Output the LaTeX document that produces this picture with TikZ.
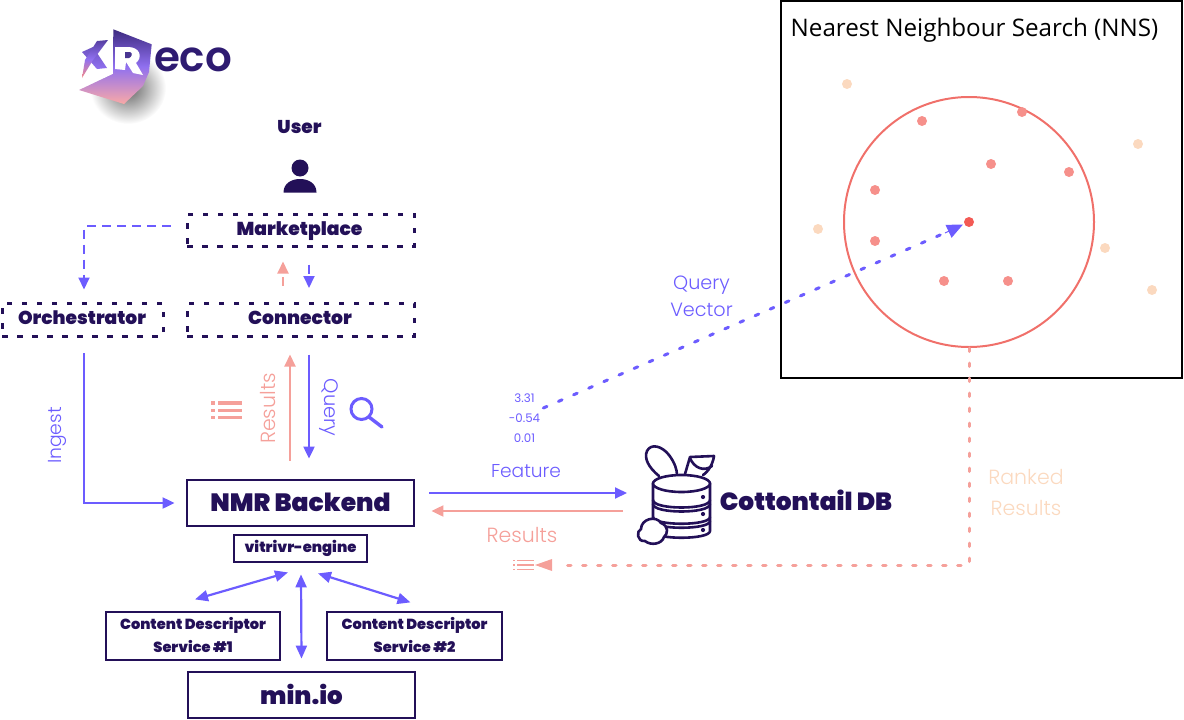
\documentclass[tikz,border=0pt]{standalone}
\usepackage{fontspec}
\setmainfont{Poppins}
\newfontfamily\popb{Poppins Black}
\newfontfamily\popl{Poppins Light}
\newfontfamily\titlef{Open Sans}
\usetikzlibrary{arrows.meta,calc,shapes.geometric}
\definecolor{navy}{HTML}{231058}
\definecolor{vio}{HTML}{6C5CFF}
\definecolor{sal}{HTML}{F5A09A}
\definecolor{pch}{HTML}{FBD9BF}
\definecolor{redc}{HTML}{F0706A}
\definecolor{logod}{HTML}{3D2A80}
\definecolor{logom}{HTML}{9070F0}
\definecolor{logop}{HTML}{F88C88}
\tikzset{
 x=1pt,y=-1pt,
 solidbox/.style={draw=navy,line width=2.8pt,minimum height=#1,inner sep=0pt,anchor=center},
 dashbox/.style={draw=navy,line width=3pt,dash pattern=on 5.5pt off 9.5pt,inner sep=0pt,anchor=center},
 lbl/.style={font=\popb\color{navy},inner sep=0pt},
 thin lbl/.style={font=\popl\fontsize{17}{20}\selectfont,inner sep=0pt},
 va/.style={draw=vio,line width=2pt,-{Triangle[length=12pt,width=11pt,fill=vio]}},
 vb/.style={draw=vio,line width=2.2pt,{Triangle[length=13pt,width=11pt,fill=vio]}-{Triangle[length=13pt,width=11pt,fill=vio]}},
 sa/.style={draw=sal,line width=2pt,-{Triangle[length=12pt,width=11pt,fill=sal]}},
 dotp/.style={circle,fill=pch,minimum size=10pt,inner sep=0pt},
 dotm/.style={circle,fill=#1,minimum size=10pt,inner sep=0pt},
 icon/.style={draw=navy,line width=2.6pt,line join=round,line cap=round,fill=white},
 iconl/.style={draw=navy,line width=2.6pt,line cap=round},
}
\begin{document}
\begin{tikzpicture}
\useasboundingbox (0,0) rectangle (1184,720);
% logo shadow
\shade[inner color=black!62,outer color=white] (128,88) ellipse (38 and 36);
% logo
\fill[white] (113,29) -- (113,74) -- (78,90) -- (78,43) -- cycle;
\shade[top color=logod,bottom color=logop!75!white,middle color=logom] (113.3,29.3) -- (151.7,44.3) -- (149,72) -- (143,86) -- (124,104) -- (79,90) -- (113,74) -- cycle;
\shade[top color=logom!60!logod,bottom color=logom] (82,52) -- (93,47) -- (107,68) -- (97,69) -- cycle;
\shade[top color=logod!70!logom,bottom color=logop,middle color=logom] (97,41) -- (108,40) -- (93,60) -- (82,78) -- (85,60) -- cycle;
\fill[white] (115,47) -- (128,47) .. controls (140,47) and (143,57) .. (136,63) -- (143,75) -- (133,73) -- (126,62) -- (125,70) -- (115,69) -- cycle;
\fill[logod!85!logom] (125,52) -- (130,52) .. controls (133,53) and (132,57) .. (129,58) -- (125,58) -- cycle;
\node[font=\fontspec{Poppins SemiBold}\fontsize{42}{44}\selectfont\color{navy!85!vio},inner sep=0pt] (logo) at (193,60) {eco};
% user
\node[lbl,font=\popb\fontsize{18.5}{20}\selectfont\color{navy}] (user) at (299.5,127) {User};
\fill[navy] (300,168) circle (8.5);
\fill[navy] (283.5,192.5) .. controls (283.5,183) and (292,179) .. (300,179) .. controls (308,179) and (316.5,183) .. (316.5,192.5) -- cycle;
% boxes
\node[dashbox,minimum width=227pt,minimum height=32pt] (market) at (300.5,230) {};
\node[lbl,font=\popb\fontsize{18.7}{20}\selectfont\color{navy}] at (299.5,231) {Marketplace};
\node[dashbox,minimum width=161pt,minimum height=33pt] (orch) at (82.5,319.5) {};
\node[lbl,font=\popb\fontsize{18.6}{20}\selectfont\color{navy}] at (82,317.5) {Orchestrator};
\node[dashbox,minimum width=227pt,minimum height=33pt] (conn) at (300.5,319.5) {};
\node[lbl,font=\popb\fontsize{18.7}{20}\selectfont\color{navy}] at (300,317.5) {Connector};
\node[solidbox=46pt,minimum width=227pt,font=\popb\fontsize{25}{28}\selectfont\color{navy}] (nmr) at (300.5,503) {\raisebox{2.5pt}{NMR Backend}};
\node[solidbox=27pt,minimum width=133pt,font=\popb\fontsize{14.8}{16}\selectfont\color{navy}] (vit) at (300.5,548.5) {vitrivr-engine};
\node[solidbox=48pt,minimum width=174pt,align=center,font=\popb\fontsize{14.6}{23}\selectfont\color{navy}] (cd1) at (193,636) {\raisebox{2pt}{Content Descriptor}\\\raisebox{2pt}{Service \#1}};
\node[solidbox=48pt,minimum width=175pt,align=center,font=\popb\fontsize{14.6}{23}\selectfont\color{navy}] (cd2) at (414.5,636) {\raisebox{2pt}{Content Descriptor}\\\raisebox{2pt}{Service \#2}};
\node[solidbox=46pt,minimum width=227pt,font=\popb\fontsize{24.5}{28}\selectfont\color{navy}] (minio) at (301.5,695) {\raisebox{2pt}{min.io}};
% connectors top
\draw[va,dash pattern=on 9pt off 6pt] ([shift={(-15,-4)}]market.west) -| ([shift={(1.5,-12)}]orch.north);
\draw[sa,dash pattern=on 9pt off 6pt] ([xshift=-17.5pt,yshift=16pt]conn.north) -- ([xshift=-17.5pt,yshift=-14pt]market.south);
\draw[va,dash pattern=on 9pt off 6pt] ([xshift=8.5pt,yshift=-17pt]market.south) -- ([xshift=8.5pt,yshift=13.5pt]conn.north);
\draw[sa] ([xshift=-10.5pt,yshift=18pt]nmr.north) -- ([xshift=-10.5pt,yshift=-17pt]conn.south);
\draw[va] ([xshift=8.5pt,yshift=-17pt]conn.south) -- ([xshift=8.5pt,yshift=20pt]nmr.north);
\draw[va] ([shift={(1.5,15.5)}]orch.south) |- ([xshift=-11pt]nmr.west);
\draw[va] ([xshift=14pt,yshift=10pt]nmr.east) -- (627,493);
\coordinate (dbr) at (623,511);
\draw[sa] (dbr) -- ([xshift=16pt,yshift=-8pt]nmr.east);
% bottom
\draw[vb] ([shift={(-105.5,36)}]vit.south) -- ([shift={(-12.5,9)}]vit.south);
\draw[vb] ([xshift=0.5pt,yshift=-11pt]vit.south) -- ([yshift=12pt]minio.north);
\draw[vb] ([shift={(17.5,10)}]vit.south) -- ([shift={(110,39)}]vit.south);
% labels
\node[thin lbl,font=\popl\fontsize{20.5}{22}\selectfont\color{sal},rotate=90] at (268,408.5) {Results};
\node[thin lbl,font=\popl\fontsize{19.5}{22}\selectfont\color{vio},rotate=-90] at (329,407.5) {Query};
\node[thin lbl,font=\popl\fontsize{18.8}{22}\selectfont\color{vio},rotate=90] at (57,435.5) {Ingest};
\node[thin lbl,font=\popl\fontsize{18.6}{22}\selectfont\color{vio}] at (526,471.5) {Feature};
\node[thin lbl,font=\popl\fontsize{20.5}{22}\selectfont\color{sal}] at (522,535) {Results};
\node[thin lbl,align=center,font=\popl\fontsize{19.2}{27}\selectfont\color{vio}] at (701.5,296) {Query\\Vector};
\node[thin lbl,align=center,font=\popl\fontsize{20.5}{31}\selectfont\color{pch}] at (1026,493) {Ranked\\Results};
\node[thin lbl,align=center,font=\fontspec{Poppins}\fontsize{11.8}{20}\selectfont\color{vio}] (vec) at (524.5,418) {3.31\\-0.54\\0.01};
% list icon
\foreach \y in {403,410.5,417.5}{
 \fill[sal] (211,\y-1.6) rectangle (215,\y+1.6);
 \fill[sal] (218,\y-1.6) rectangle (242,\y+1.6);
}
% magnifier
\draw[vio,line width=3pt] (361.5,409) circle (10.5);
\draw[vio,line width=3.4pt,line cap=round] (369,417) -- (382,427);
% NNS
\node[draw=black,line width=2pt,minimum width=401pt,minimum height=377pt,inner sep=0pt] (nns) at (981.5,189.5) {};
\node[inner sep=0pt,font=\titlef\fontsize{24.2}{26}\selectfont,anchor=west,text=black] at (790.5,30.5) {Nearest Neighbour Search (NNS)};
\node[circle,draw=redc,line width=2pt,minimum size=250pt,inner sep=0pt] (circ) at (969,222) {};
\foreach \p in {(847,84),(1138,144),(818,229),(1105,248),(1152,290)} \node[dotp] at \p {};
\foreach \p in {(922,121),(1022,112),(991,164),(1069,172),(875,190),(875,241),(944,281),(1008,281)} \node[dotm=sal!90!red] at \p {};
\node[dotm=redc!80!red] (cen) at (969,222) {};
\coordinate (vstart) at ([shift={(3,-10)}]vec.east);
\draw[vio,line width=3pt,dash pattern=on 4pt off 12.5pt,line cap=round] (vstart) -- ([shift={(-22,10)}]cen.center);
\draw[vio,line width=1pt,-{Triangle[length=16pt,width=14pt,fill=vio]}] ([shift={(-24,11)}]cen.center) -- ([shift={(-6,2.5)}]cen.center);
% ranked
\draw[sal,line width=3pt,line cap=round,dash pattern=on 3.5pt off 11.5pt] (circ.south) |- (558,565);
\fill[sal] (535,565) -- (552,559) -- (552,571) -- cycle;
\foreach \y in {560.5,565,569.5}{
 \fill[sal] (513,\y-0.7) rectangle (515,\y+0.7);
 \fill[sal] (517,\y-0.7) rectangle (534,\y+0.7);
}
% cottontail
\draw[icon] (659,476) .. controls (648,467) and (644,458) .. (647,451) .. controls (651,443) and (662,446) .. (669,455) .. controls (675,463) and (677,470) .. (677,475);
\draw[icon] (685,474) -- (690,457) -- (714,456) .. controls (713,464) and (708,472) .. (703,475);
\draw[iconl] (690,458) .. controls (694,468) and (704,472) .. (712,466);
\draw[icon] (653,483) -- (653,531) .. controls (653,540) and (710,540) .. (710,531) -- (710,483) -- cycle;
\draw[iconl] (653,500) .. controls (653,510) and (710,510) .. (710,500);
\draw[iconl] (653,504) .. controls (653,514) and (710,514) .. (710,504);
\draw[iconl] (653,517) .. controls (653,526) and (710,526) .. (710,517);
\draw[iconl] (653,521) .. controls (653,530) and (710,530) .. (710,521);
\draw[icon] (681.5,483.5) ellipse (28.5 and 8.5);
\fill[navy] (703,497) circle (2.1) (703,514) circle (2.1) (703,530) circle (2.1);
\draw[icon] (645,541) .. controls (637,542) and (636,531) .. (641,529) .. controls (641,519) and (656,515) .. (661,523) .. controls (669,526) and (668,534) .. (664,537) .. controls (662,544) and (651,546) .. (645,541) -- cycle;
\node[lbl,font=\popb\fontsize{24.8}{28}\selectfont\color{navy}] (ct) at (806,500) {Cottontail DB};
\end{tikzpicture}
\end{document}
